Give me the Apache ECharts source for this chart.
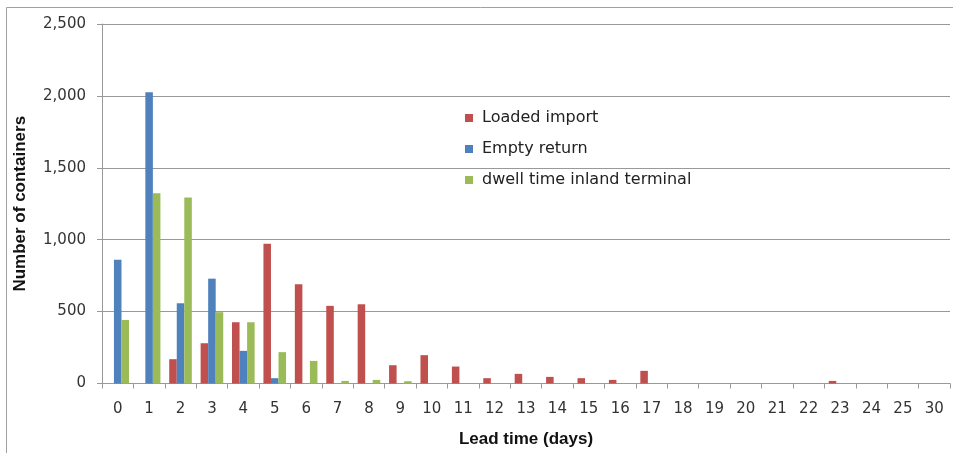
<!DOCTYPE html>
<html>
<head>
<meta charset="utf-8">
<script src="https://cdn.jsdelivr.net/npm/echarts@6/dist/echarts.min.js"></script>
<style>
html,body{margin:0;padding:0;background:#fff;}
#chart{width:953px;height:453px;}
</style>
</head>
<body>
<div id="chart"></div>
<script>
var categories = ['0','1','2','3','4','5','6','7','8','9','10','11','12','13','14','15','16','17','18','19','20','21','22','23','24','25','30'];
var loadedImport = [0,0,169,280,426,971,690,540,551,127,197,118,37,67,46,37,25,88,0,0,0,0,0,18,0,0,0];
var emptyReturn = [860,2026,558,729,227,37,0,0,0,0,0,0,0,0,0,0,0,0,0,0,0,0,0,0,0,0,0];
var dwellTime = [442,1323,1293,496,426,218,157,18,25,16,0,0,0,0,0,0,0,0,0,0,0,0,0,0,0,0,0];
var yTicks = {min:0, max:2500, interval:500};

var chart = echarts.init(document.getElementById('chart'));
var labelFont = {fontFamily:'DejaVu Sans', fontSize:15, color:'#333'};
var nameFont = {fontFamily:'Liberation Sans', fontWeight:'bold', fontSize:17, color:'#111'};
chart.setOption({
  animation:false,
  graphic:[{type:'rect', shape:{x:6.5,y:7.5,width:960,height:460}, style:{fill:'none', stroke:'#a0a0a0', lineWidth:1}}],
  legend:{
    orient:'vertical', left:460, top:105,
    itemWidth:8, itemHeight:8, itemGap:15,
    icon:'rect',
    textStyle:{fontFamily:'DejaVu Sans', fontSize:16, color:'#222', lineHeight:16, padding:[0,0,0,4]},
    data:['Loaded import','Empty return','dwell time inland terminal']
  },
  grid:{left:102, right:3, top:24, bottom:69.5, containLabel:false},
  xAxis:{
    type:'category', data:categories,
    name:'Lead time (days)', nameLocation:'middle', nameGap:47,
    nameTextStyle:nameFont,
    axisLine:{lineStyle:{color:'#999', width:1}},
    axisTick:{show:true, length:5, lineStyle:{color:'#999'}},
    axisLabel:Object.assign({margin:18, interval:0}, labelFont)
  },
  yAxis:{
    type:'value', min:yTicks.min, max:yTicks.max, interval:yTicks.interval,
    name:'Number of containers', nameLocation:'middle', nameGap:73, nameRotate:90,
    nameTextStyle:nameFont,
    axisLine:{show:true, lineStyle:{color:'#999', width:1}},
    axisTick:{show:true, length:5, lineStyle:{color:'#999'}},
    splitLine:{lineStyle:{color:'#999', width:1}},
    axisLabel:Object.assign({margin:16, formatter:function(v){return v.toLocaleString('en-US');}}, labelFont)
  },
  series:[
    {name:'Loaded import', type:'bar', data:loadedImport, itemStyle:{color:'#C0504D'}, barGap:'0%', barCategoryGap:'28%'},
    {name:'Empty return', type:'bar', data:emptyReturn, itemStyle:{color:'#4F81BD'}, barGap:'0%', barCategoryGap:'28%'},
    {name:'dwell time inland terminal', type:'bar', data:dwellTime, itemStyle:{color:'#9BBB59'}, barGap:'0%', barCategoryGap:'28%'}
  ]
});
</script>
</body>
</html>
